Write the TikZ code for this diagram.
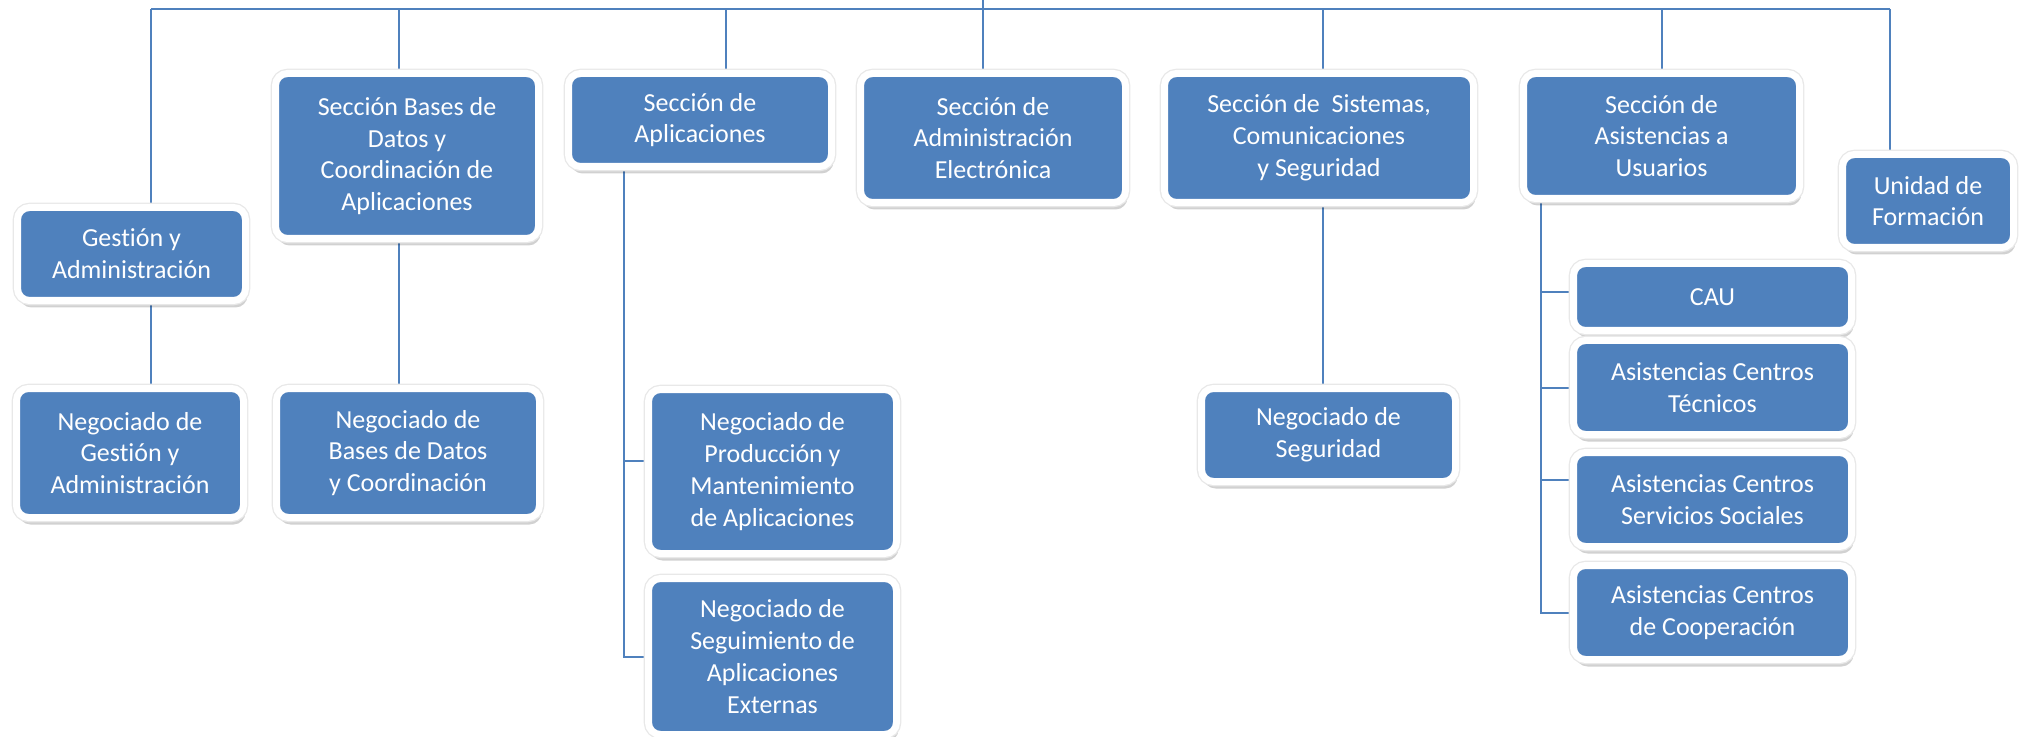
\documentclass[tikz,border=0pt]{standalone}
\usepackage{fontspec}
\setmainfont{Carlito}[Ligatures=NoCommon]
\usetikzlibrary{shadows,backgrounds}
\definecolor{azul}{HTML}{4F81BD}

\tikzset{
	caja/.style={rounded corners=6pt, fill=azul, draw=white, line width=3.5pt,
		text=white, align=center, inner sep=0pt,
		font=\fontsize{13}{15.9}\selectfont,
		drop shadow={shadow xshift=1pt, shadow yshift=-3.5pt, opacity=0.18, fill=black},
		preaction={draw=black!9, line width=4.8pt}},
	link/.style={draw=azul, line width=1pt}
}

\begin{document}
\begin{tikzpicture}[x=0.5pt, y=-0.5pt]
			\useasboundingbox (0,0) rectangle (2027,737);

			\node[caja, minimum width=114pt, minimum height=46.5pt] (G) at (131.5, 254) {Gestión y\\Administración};
			\node[caja, minimum width=131.5pt, minimum height=82.5pt] (BD) at (407, 156) {Sección Bases de\\Datos y\\Coordinación de\\Aplicaciones};
			\node[caja, minimum width=131.5pt, minimum height=46.5pt] (AP) at (700, 120) {Sección de\\Aplicaciones};
			\node[caja, minimum width=132.5pt, minimum height=64.5pt] (AE) at (993, 138) {Sección de\\Administración\\Electrónica};
			\node[caja, minimum width=154.5pt, minimum height=64.5pt] (SIS) at (1319, 138) {Sección de~ Sistemas,\\Comunicaciones\\y Seguridad};
			\node[caja, minimum width=138pt, minimum height=62.5pt] (AS) at (1661.5, 136) {Sección de\\Asistencias a\\Usuarios};
			\node[caja, minimum width=85.5pt, minimum height=46.5pt] (UF) at (1928, 201) {Unidad de\\Formación};

			\node[caja, minimum width=113.5pt, minimum height=64.5pt] (NG) at (130, 453) {Negociado de\\Gestión y\\Administración};
			\node[caja, minimum width=131.5pt, minimum height=64.5pt] (NBD) at (408, 453) {Negociado de\\Bases de Datos\\y Coordinación};
			\node[caja, minimum width=124pt, minimum height=82pt] (NP) at (772.5, 471.5) {Negociado de\\Producción y\\Mantenimiento\\de Aplicaciones};
			\node[caja, minimum width=124pt, minimum height=78pt] (NS) at (772.5, 656.5) {Negociado de\\Seguimiento de\\Aplicaciones\\Externas};
			\node[caja, minimum width=127pt, minimum height=46.5pt] (NSEG) at (1328.5, 435) {Negociado de\\Seguridad};

			\node[caja, minimum width=139pt, minimum height=33.5pt] (CAU) at (1712.5, 297) {CAU};
			\node[caja, minimum width=139pt, minimum height=47pt] (ACT) at (1712.5, 387.5) {Asistencias Centros\\Técnicos};
			\node[caja, minimum width=139pt, minimum height=47pt] (ACS) at (1712.5, 499.5) {Asistencias Centros\\Servicios Sociales};
			\node[caja, minimum width=139pt, minimum height=47pt] (ACC) at (1712.5, 612.5) {Asistencias Centros\\de Cooperación};

			\coordinate (R) at (983, 0);
			\coordinate (T1) at (151, 9);
			\coordinate (T2) at (399, 9);
			\coordinate (T3) at (726, 9);
			\coordinate (T4) at (983, 9);
			\coordinate (T5) at (1323, 9);
			\coordinate (T6) at (1662, 9);
			\coordinate (T7) at (1890, 9);
			\coordinate (A2) at (624, 0);
			\coordinate (S2) at (1541, 0);

			\begin{scope}[on background layer]
			\draw[link] (R) -- (T4);
			\draw[link] (T1) -- (T7);

			\draw[link] (T1) -- (T1 |- G.north);
			\draw[link] (T2) -- (T2 |- BD.north);
			\draw[link] (T3) -- (T3 |- AP.north);
			\draw[link] (T4) -- (T4 |- AE.north);
			\draw[link] (T5) -- (T5 |- SIS.north);
			\draw[link] (T6) -- (T6 |- AS.north);
			\draw[link] (T7) -- (T7 |- UF.north);

			\draw[link] (G.south -| T1) -- (NG.north -| T1);
			\draw[link] (BD.south -| T2) -- (NBD.north -| T2);
			\draw[link] (SIS.south -| T5) -- (NSEG.north -| T5);

			\draw[link] (AP.south -| A2) |- (NS.west);
			\draw[link] ([yshift=5.5pt]NP.west -| A2) -- ([yshift=5.5pt]NP.west);

			\draw[link] (AS.south -| S2) |- (ACC.west);
			\draw[link] ([yshift=2.5pt]CAU.west -| S2) -- ([yshift=2.5pt]CAU.west);
			\draw[link] (ACT.west -| S2) -- (ACT.west);
			\draw[link] ([yshift=9.75pt]ACS.west -| S2) -- ([yshift=9.75pt]ACS.west);
			\end{scope}
		\end{tikzpicture}
\end{document}
